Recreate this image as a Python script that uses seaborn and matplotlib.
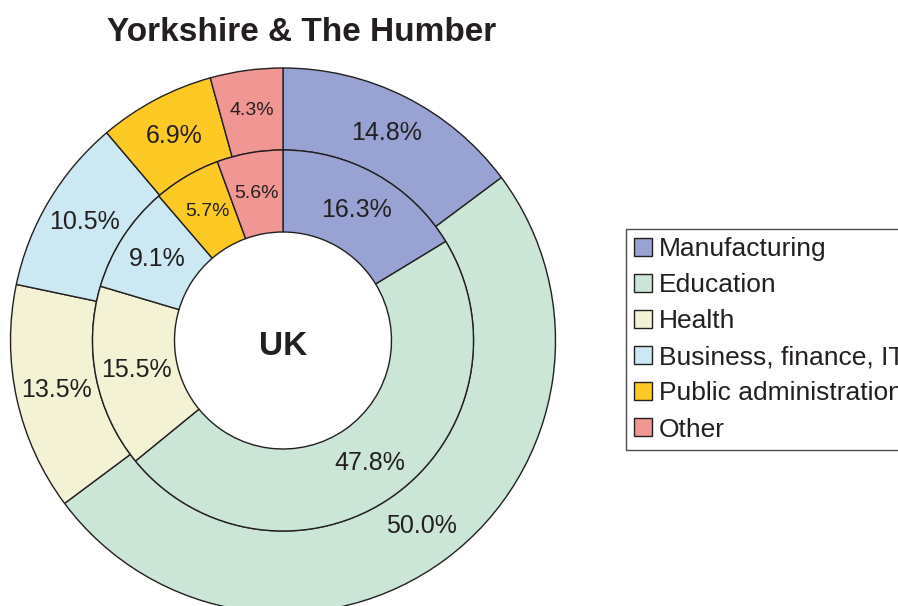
import numpy as np
import seaborn as sns
import matplotlib.pyplot as plt
from matplotlib.patches import Patch

# Data
sectors = ["Manufacturing", "Education", "Health", "Business, finance, IT",
           "Public administration", "Other"]
yorkshire = [14.8, 50.0, 13.5, 10.5, 6.9, 4.3]   # outer ring
uk = [16.3, 47.8, 15.5, 9.1, 5.7, 5.6]           # inner ring
sector_colors = ["#98a3d3", "#cbe6d6", "#f3f2d4", "#cbe8f3", "#fcc925", "#f09693"]

sns.set_theme(style="white")
plt.rcParams['font.family'] = ['Liberation Sans', 'DejaVu Sans']

dark = "#231f20"
palette = sns.color_palette(sector_colors)

fig = plt.figure(figsize=(8.98, 6.06), dpi=100)
ax = fig.add_axes([0, 0, 1, 1])

sc = 272.5  # px per unit radius
ring_w = 82 / sc
inner_r = 190.5 / sc
wedge_kw = dict(width=ring_w, edgecolor=dark, linewidth=1.0)

w_out, t_out, a_out = ax.pie(yorkshire, radius=1.0, colors=palette, startangle=90,
                             counterclock=False, autopct='%.1f%%', pctdistance=0.85,
                             wedgeprops=wedge_kw)
w_in, t_in, a_in = ax.pie(uk, radius=inner_r, colors=palette, startangle=90,
                          counterclock=False, autopct='%.1f%%',
                          pctdistance=149.5 / 190.5, wedgeprops=wedge_kw)

for vals, texts in [(yorkshire, a_out), (uk, a_in)]:
    for v, t in zip(vals, texts):
        t.set_color(dark)
        t.set_fontsize(14 if v < 6 else 18)

ax.text(0, -14.5 / sc, "UK", ha='center', va='baseline', fontsize=24,
        fontweight='bold', color=dark)

# centre at (283, 340.5) px
ax.set_aspect('auto')
ax.set_xlim(-283 / sc, (898 - 283) / sc)
ax.set_ylim(-(606 - 340.5) / sc, 340.5 / sc)
ax.axis('off')

fig.text(302 / 898, 1 - 41 / 606, "Yorkshire & The Humber", ha='center', va='baseline',
         fontsize=24, fontweight='bold', color=dark)

handles = [Patch(facecolor=c, edgecolor=dark, linewidth=1.0) for c in sector_colors]
leg = fig.legend(handles, sectors, loc='upper left', bbox_to_anchor=(626 / 898, 1 - 229 / 606),
                 fontsize=19, frameon=True, fancybox=False, handlelength=0.68,
                 handleheight=0.68, handletextpad=0.26, borderpad=0.3, labelspacing=0.46,
                 borderaxespad=0)
leg.get_frame().set_edgecolor(dark)
leg.get_frame().set_linewidth(1.0)
for t in leg.get_texts():
    t.set_color(dark)

fig.savefig("out.png", dpi=100)
